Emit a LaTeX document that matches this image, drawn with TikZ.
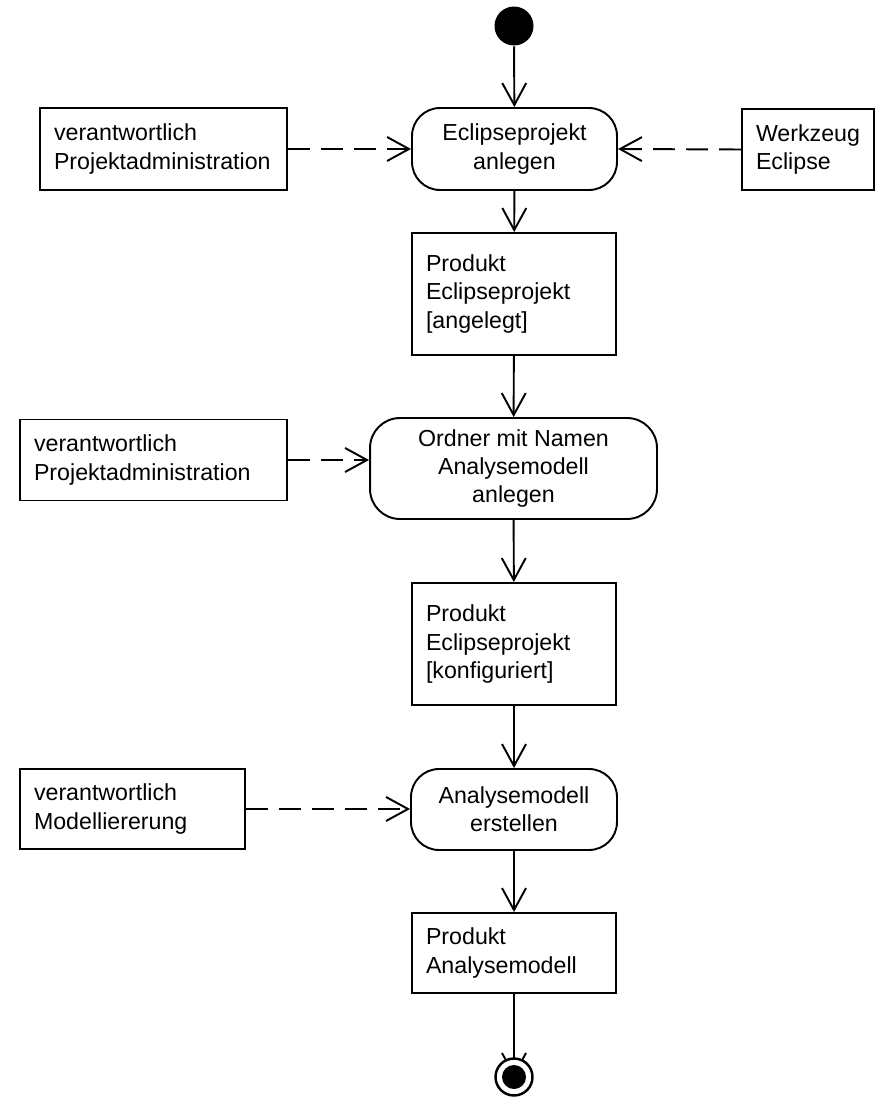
\documentclass[tikz,border=0pt]{standalone}
\usepackage{fontspec}
\setmainfont{Liberation Sans}
\usetikzlibrary{arrows.meta, backgrounds}

\tikzset{
  startdot/.style={circle, fill=black, minimum size=0.78cm, inner sep=0pt},
  enddot/.style={circle, draw, fill=white, line width=1.4pt, minimum size=0.74cm, inner sep=0pt,
    path picture={\fill[black] (path picture bounding box.center) circle (0.24cm);}},
  action/.style={draw, line width=1.1pt, rounded corners=0.56cm, align=center, inner sep=0pt},
  objbox/.style={draw, line width=1.1pt, align=left, inner xsep=0.28cm, inner ysep=0pt},
  flow/.style={line width=1.1pt, -{Straight Barb[length=0.44cm, width=0.48cm]}},
  dep/.style={flow, dash pattern=on 12.5pt off 6.3pt},
}

\begin{document}
\begin{tikzpicture}[x=0.02cm, y=-0.02cm, line width=1.1pt,
    every node/.style={font=\fontsize{13.2}{16}\selectfont}]

  \useasboundingbox (0,0) rectangle (875,1098);

  % Start
  \node[startdot] (start) at (514,26) {};

  % Eclipseprojekt anlegen
  \node[action, minimum width=4.1cm, minimum height=1.64cm] (anlegen) at (514.5,149) {Eclipseprojekt\\anlegen};
  \node[objbox, text width=4.38cm, minimum height=1.64cm] (verantw1) at (163.5,149) {verantwortlich\\Projektadministration};
  \node[objbox, text width=2.08cm, minimum height=1.62cm] (werkzeug) at (808,149.5) {Werkzeug\\Eclipse};

  % Produkt Eclipseprojekt [angelegt]
  \node[objbox, text width=3.52cm, minimum height=2.44cm] (prod1) at (514,294) {Produkt\\Eclipseprojekt\\{[angelegt]}};

  % Ordner anlegen
  \node[action, rounded corners=0.6cm, minimum width=5.74cm, minimum height=2.02cm] (ordner) at (513.5,468.5) {Ordner mit Namen\\Analysemodell\\anlegen};
  \node[objbox, text width=4.78cm, minimum height=1.62cm] (verantw2) at (153.5,460) {verantwortlich\\Projektadministration};

  % Produkt Eclipseprojekt [konfiguriert]
  \node[objbox, text width=3.52cm, minimum height=2.44cm] (prod2) at (514,644) {Produkt\\Eclipseprojekt\\{[konfiguriert]}};

  % Analysemodell erstellen
  \node[action, minimum width=4.12cm, minimum height=1.62cm] (erstellen) at (514,809.5) {Analysemodell\\erstellen};
  \node[objbox, text width=3.94cm, minimum height=1.6cm] (verantw3) at (132.5,809) {verantwortlich\\Modelliererung};

  % Produkt Analysemodell
  \node[objbox, text width=3.52cm, minimum height=1.6cm] (prod3) at (514,953) {Produkt\\Analysemodell};

  % End
  \node[enddot] (ende) at (514,1077) {};

  % Control flow
  \draw[flow] (start) -- (anlegen);
  \draw[flow] (anlegen) -- (prod1);
  \draw[flow] (prod1) -- (ordner);
  \draw[flow] (ordner) -- (prod2);
  \draw[flow] (prod2) -- (erstellen);
  \draw[flow] (erstellen) -- (prod3);
  \begin{scope}[on background layer]
    \draw[flow] (prod3) -- (ende.center);
  \end{scope}

  % Dependencies
  \draw[dep] (verantw1.east) -- (anlegen.west);
  \draw[dep] (werkzeug.west) -- (anlegen.east);
  \draw[dep] (verantw2.east) -- (verantw2.east -| ordner.west);
  \draw[dep] (verantw3.east) -- (verantw3.east -| erstellen.west);

\end{tikzpicture}
\end{document}
